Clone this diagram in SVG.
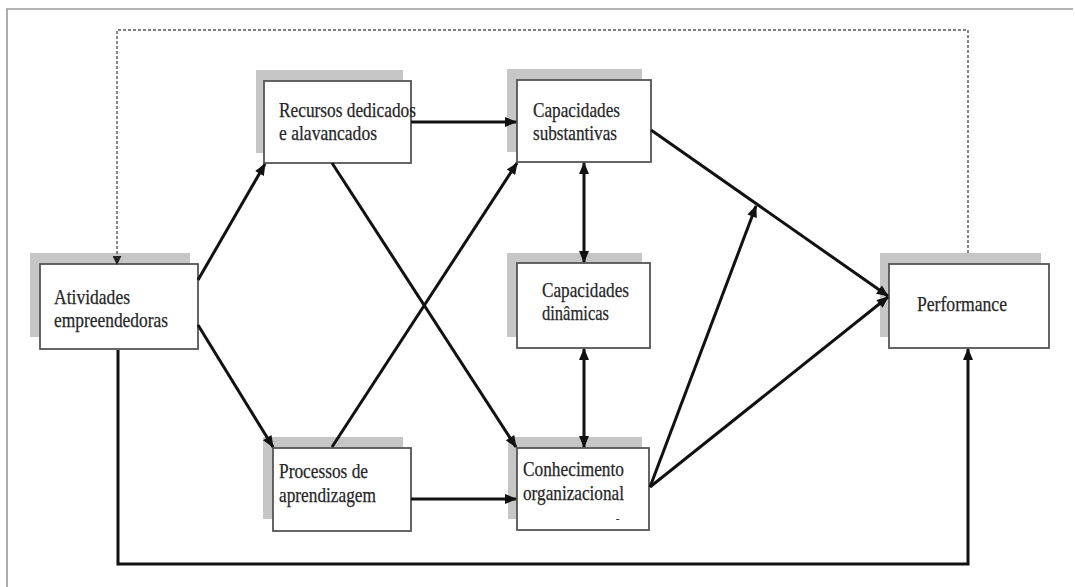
<svg xmlns="http://www.w3.org/2000/svg" width="1075" height="587" viewBox="0 0 1075 587">
<style>
.sh{fill:#c6c6c6}
.bx{fill:#fff;stroke:#555;stroke-width:1.8}
.t{font-family:"Liberation Serif","Times New Roman",serif;font-size:21px;fill:#262626;stroke:#262626;stroke-width:0.25}
.c{fill:none;stroke:#111;stroke-width:3}
.d{fill:none;stroke:#555;stroke-width:1.4;stroke-dasharray:3 2}
</style>
<defs>
<marker id="ah" viewBox="0 0 12 10" refX="11" refY="5" markerWidth="13" markerHeight="10" orient="auto-start-reverse" markerUnits="userSpaceOnUse">
<path d="M0,0 L12,5 L0,10 z" fill="#111"/>
</marker>
<marker id="ahd" viewBox="0 0 10 10" refX="9" refY="5" markerWidth="9" markerHeight="9" orient="auto" markerUnits="userSpaceOnUse">
<path d="M0,0 L10,5 L0,10 z" fill="#222"/>
</marker>
</defs>
<rect width="1075" height="587" fill="#fff"/>
<path d="M7,587 V9 H1073" fill="none" stroke="#9a9a9a" stroke-width="1.6"/>

<g id="atividades">
<rect class="sh" x="30" y="253" width="160" height="84"/>
<rect class="bx" x="40" y="264" width="158" height="85"/>
<text class="t" x="54" y="304" textLength="76" lengthAdjust="spacingAndGlyphs">Atividades</text>
<text class="t" x="54" y="327" textLength="114" lengthAdjust="spacingAndGlyphs">empreendedoras</text>
</g>

<g id="recursos">
<rect class="sh" x="256" y="70" width="147" height="83"/>
<rect class="bx" x="264" y="81" width="147" height="82"/>
<text class="t" x="279" y="117" textLength="137" lengthAdjust="spacingAndGlyphs">Recursos dedicados</text>
<text class="t" x="279" y="140" textLength="98" lengthAdjust="spacingAndGlyphs">e alavancados</text>
</g>

<g id="capacidades-substantivas">
<rect class="sh" x="507" y="69" width="135" height="83"/>
<rect class="bx" x="517" y="80" width="134" height="82"/>
<text class="t" x="533" y="117" textLength="87" lengthAdjust="spacingAndGlyphs">Capacidades</text>
<text class="t" x="533" y="140" textLength="84" lengthAdjust="spacingAndGlyphs">substantivas</text>
</g>

<g id="capacidades-dinamicas">
<rect class="sh" x="507" y="253" width="135" height="84"/>
<rect class="bx" x="517" y="263" width="133" height="85"/>
<text class="t" x="542" y="297" textLength="87" lengthAdjust="spacingAndGlyphs">Capacidades</text>
<text class="t" x="542" y="320" textLength="67" lengthAdjust="spacingAndGlyphs">dinâmicas</text>
</g>

<g id="processos">
<rect class="sh" x="263" y="437" width="140" height="82"/>
<rect class="bx" x="273" y="448" width="138" height="83"/>
<text class="t" x="279" y="478" textLength="89" lengthAdjust="spacingAndGlyphs">Processos de</text>
<text class="t" x="279" y="502" textLength="97" lengthAdjust="spacingAndGlyphs">aprendizagem</text>
</g>

<g id="conhecimento">
<rect class="sh" x="508" y="437" width="134" height="82"/>
<rect class="bx" x="517" y="448" width="132" height="82"/>
<text class="t" x="523" y="476" textLength="101" lengthAdjust="spacingAndGlyphs">Conhecimento</text>
<text class="t" x="523" y="500" textLength="101" lengthAdjust="spacingAndGlyphs">organizacional</text>
<text class="t" x="616" y="522" style="font-size:10px">-</text>
</g>

<g id="performance">
<rect class="sh" x="880" y="253" width="161" height="84"/>
<rect class="bx" x="889" y="264" width="160" height="84"/>
<text class="t" x="917" y="311" textLength="90" lengthAdjust="spacingAndGlyphs">Performance</text>
</g>

<g id="connectors">
<path class="d" d="M968,253 V30 H117 V264" marker-end="url(#ahd)"/>
<path class="c" d="M118,350 V564 H968 V349" marker-end="url(#ah)"/>
<path class="c" d="M198,280 L265,164" marker-end="url(#ah)"/>
<path class="c" d="M198,325 L273,447" marker-end="url(#ah)"/>
<path class="c" d="M411,122 L516,122" marker-end="url(#ah)"/>
<path class="c" d="M332,163 L516,447" marker-end="url(#ah)"/>
<path class="c" d="M332,447 L517,163" marker-end="url(#ah)"/>
<path class="c" d="M584,163 L584,262" marker-start="url(#ah)" marker-end="url(#ah)"/>
<path class="c" d="M584,349 L584,447" marker-start="url(#ah)" marker-end="url(#ah)"/>
<path class="c" d="M411,499 L516,499" marker-end="url(#ah)"/>
<path class="c" d="M651,130 L888,296" marker-end="url(#ah)"/>
<path class="c" d="M650,487 L756,206" marker-end="url(#ah)"/>
<path class="c" d="M650,487 L888,297" marker-end="url(#ah)"/>
</g>
</svg>
